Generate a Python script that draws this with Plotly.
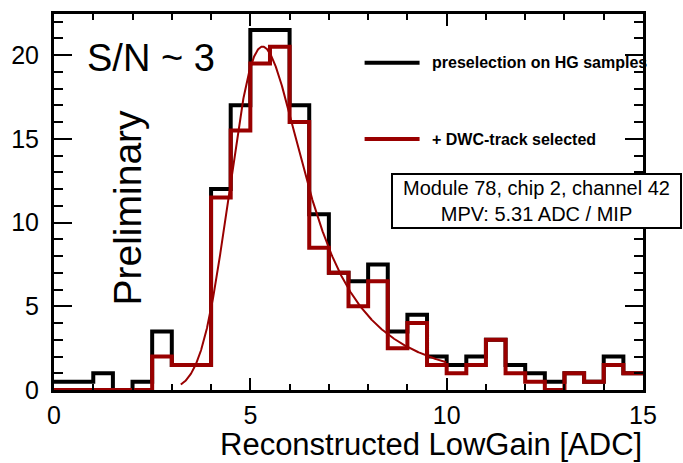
import numpy as np
import plotly.graph_objects as go

# ---- histogram contents (bin width 0.5 ADC, range 0-15) ----
bin_edges = np.linspace(0.0, 15.0, 31)
counts_presel = [0.5, 0.5, 1, 0, 0.5, 3.5, 1.5, 1.5, 12, 17,
                 21.5, 21.5, 17, 10.5, 7, 6.5, 7.5, 3.5, 4.5, 2,
                 1.5, 2, 3, 1.5, 1, 0.5, 1, 0.5, 2, 1]
counts_dwc = [0, 0, 0, 0, 0, 2, 1.5, 1.5, 11.5, 15.5,
              19.5, 20.5, 16, 8.5, 7, 5, 6.5, 2.5, 4, 1.5,
              1, 1.5, 3, 1, 0.5, 0, 1, 0.5, 1.5, 1]

# ---- Landau (x) Gauss fit parameters ----
FIT_MPV = 5.31
FIT_LANDAU_WIDTH = 0.47
FIT_GAUSS_SIGMA = 0.50
FIT_PEAK = 20.5
FIT_RANGE = (3.0, 10.0)

BLACK = "#000000"
DARKRED = "#990000"
FONT = "Liberation Sans, Arial, Helvetica, sans-serif"


def landau_pdf(lam):
    """Landau density via its integral representation."""
    t = np.linspace(0.0, 40.0, 16001)
    tlogt = np.zeros_like(t)
    tlogt[1:] = t[1:] * np.log(t[1:])
    out = np.zeros_like(lam)
    ok = lam > -3.2
    vals = lam[ok]
    res = np.empty_like(vals)
    for i in range(0, len(vals), 200):
        chunk = vals[i:i + 200]
        integrand = np.exp(-tlogt[None, :] - chunk[:, None] * t[None, :]) * np.sin(np.pi * t[None, :])
        res[i:i + 200] = np.trapezoid(integrand, t, axis=1) / np.pi
    out[ok] = np.clip(res, 0, None)
    return out


def langau_curve():
    step = 0.01
    xs = np.arange(-2.0, 20.0, step)
    phi = landau_pdf(xs / FIT_LANDAU_WIDTH)
    n = int(4 * FIT_GAUSS_SIGMA / step)
    u = np.arange(-n, n + 1) * step
    kern = np.exp(-0.5 * (u / FIT_GAUSS_SIGMA) ** 2)
    conv = np.convolve(phi, kern, mode="same")
    xs = xs + (FIT_MPV - xs[np.argmax(conv)])
    ys = conv / conv.max() * FIT_PEAK
    sel = (xs >= FIT_RANGE[0]) & (xs <= FIT_RANGE[1])
    return xs[sel], ys[sel]


def step_xy(counts):
    xs = list(bin_edges)
    ys = list(counts) + [counts[-1]]
    return xs, ys


fig = go.Figure()

bx, by = step_xy(counts_presel)
fig.add_trace(go.Scatter(x=bx, y=by, mode="lines", line_shape="hv",
                         line=dict(color=BLACK, width=4),
                         name="preselection on HG samples"))
rx, ry = step_xy(counts_dwc)
fig.add_trace(go.Scatter(x=rx, y=ry, mode="lines", line_shape="hv",
                         line=dict(color=DARKRED, width=4),
                         name="+ DWC-track selected"))
fx, fy = langau_curve()
fig.add_trace(go.Scatter(x=fx, y=fy, mode="lines",
                         line=dict(color=DARKRED, width=2), name="fit"))

# legend keys and texts
legend_rows = [("preselection on HG samples", BLACK, 19.54),
               ("+ DWC-track selected", DARKRED, 14.98)]
for label, col, yv in legend_rows:
    fig.add_shape(type="line", xref="x", yref="y", x0=7.91, x1=9.31, y0=yv, y1=yv,
                  line=dict(color=col, width=4))
    fig.add_annotation(x=9.57, y=yv, xref="x", yref="y", text="<b>%s</b>" % label,
                       showarrow=False, xanchor="left", yanchor="middle",
                       font=dict(family=FONT, size=16, color="black"))

fig.add_annotation(x=0.8, y=19.8, xref="x", yref="y", text="S/N ~ 3",
                   showarrow=False, xanchor="left", yanchor="middle",
                   font=dict(family=FONT, size=38, color="black"))
fig.add_annotation(x=1.86, y=10.9, xref="x", yref="y", text="Preliminary",
                   textangle=-90, showarrow=False, xanchor="center", yanchor="middle",
                   font=dict(family=FONT, size=39, color="black"))
fig.add_annotation(x=0.8187, y=0.5019, xref="paper", yref="paper",
                   text="Module 78, chip 2, channel 42<br>MPV: 5.31 ADC / MIP",
                   showarrow=False, xanchor="center", yanchor="middle",
                   width=285, height=50, align="center",
                   bgcolor="white", bordercolor="black", borderwidth=2, borderpad=1,
                   font=dict(family=FONT, size=20, color="black"))

# x-axis title, right-aligned to the frame
fig.add_annotation(x=1.0, y=-0.145, xref="paper", yref="paper",
                   text="Reconstructed LowGain [ADC]", showarrow=False,
                   xanchor="right", yanchor="middle", borderpad=0,
                   font=dict(family=FONT, size=31, color="black"))

axis_common = dict(showline=True, linewidth=3, linecolor="black", mirror="ticks",
                   ticks="inside", tickwidth=2, tickcolor="black", showgrid=False,
                   zeroline=False, automargin=False,
                   tickfont=dict(family=FONT, size=25, color="black"))

fig.update_xaxes(range=[0, 15], tickvals=[0, 5, 10, 15], ticklen=12,
                 minor=dict(dtick=1, tick0=0, ticks="inside", ticklen=6, tickwidth=2,
                            tickcolor="black", showgrid=False),
                 ticklabelstandoff=1, **axis_common)
fig.update_yaxes(range=[0, 22.45], tickvals=[0, 5, 10, 15, 20], ticklen=18,
                 minor=dict(dtick=1, tick0=0, ticks="inside", ticklen=9, tickwidth=2,
                            tickcolor="black", showgrid=False),
                 ticklabelstandoff=7, **axis_common)

fig.update_layout(width=683, height=463, margin=dict(l=54, r=40, t=14, b=73),
                  plot_bgcolor="white", paper_bgcolor="white", showlegend=False,
                  font=dict(family=FONT, color="black"))

fig.write_html("out.html")
